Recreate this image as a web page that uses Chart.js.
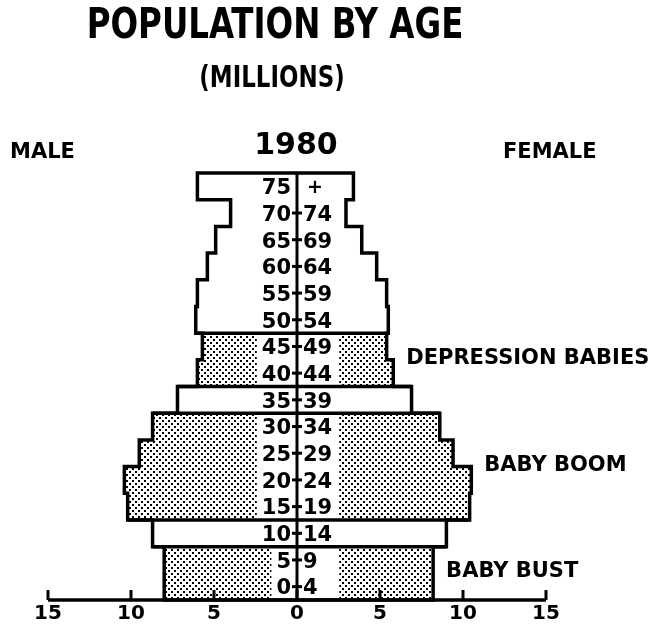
<!DOCTYPE html>
<html>
<head>
<meta charset="utf-8">
<script src="https://cdn.jsdelivr.net/npm/chart.js@4.4.1/dist/chart.umd.min.js"></script>
<style>
  body { margin: 0; background: #fff; }
  #wrap { position: relative; width: 662px; height: 629px; overflow: hidden; }
  #wrap canvas { position: absolute; left: 0; top: 0; }
  .txt { position: absolute; color: #000; font-weight: bold; line-height: 1; white-space: nowrap; }
  .narrow { font-family: "Liberation Sans Narrow", "DejaVu Sans Condensed", sans-serif; }
  .dejavu { font-family: "DejaVu Sans", sans-serif; }
  #title { left: 0; width: 550px; text-align: center; top: 2px; font-size: 43px; transform: scaleX(0.84); }
  #subtitle { left: 0; width: 544px; text-align: center; top: 62px; font-size: 30px; transform: scaleX(0.85); }
  #year { left: 0; width: 592px; text-align: center; top: 129px; font-size: 30px; }
  #male { left: 10px; top: 141px; font-size: 21px; }
  #female { left: 503px; top: 141px; font-size: 21px; }
</style>
</head>
<body>
<div id="wrap">
  <canvas id="pyramid" width="662" height="628"></canvas>
  <div class="txt narrow" id="title">POPULATION BY AGE</div>
  <div class="txt narrow" id="subtitle">(MILLIONS)</div>
  <div class="txt dejavu" id="year">1980</div>
  <div class="txt dejavu" id="male">MALE</div>
  <div class="txt dejavu" id="female">FEMALE</div>
</div>
<script>
// age groups, youngest first (drawn bottom to top)
const ageGroups = ['0-4', '5-9', '10-14', '15-19', '20-24', '25-29', '30-34', '35-39',
  '40-44', '45-49', '50-54', '55-59', '60-64', '65-69', '70-74', '75+'];
// millions
const male = [8.0, 8.0, 8.7, 10.2, 10.4, 9.5, 8.7, 7.2, 6.0, 5.7, 6.1, 6.0, 5.4, 4.9, 4.0, 6.0];
const female = [8.2, 8.2, 9.0, 10.4, 10.5, 9.4, 8.6, 6.9, 5.8, 5.4, 5.5, 5.4, 4.8, 3.9, 2.95, 3.4];
// shaded cohorts ('' = not shaded)
const cohorts = ['BABY BUST', 'BABY BUST', '', 'BABY BOOM', 'BABY BOOM', 'BABY BOOM', 'BABY BOOM', '',
  'DEPRESSION BABIES', 'DEPRESSION BABIES', '', '', '', '', '', ''];
const xTicks = [-15, -10, -5, 0, 5, 10, 15];

const LABEL_FONT = 'bold 21px "DejaVu Sans"';

// stipple fill for the shaded cohorts
function dotPattern() {
  const c = document.createElement('canvas');
  c.width = 6; c.height = 6;
  const g = c.getContext('2d');
  g.fillStyle = '#fff';
  g.fillRect(0, 0, 6, 6);
  g.fillStyle = '#000';
  g.fillRect(0, 0, 2, 2);
  g.fillRect(3, 3, 2, 2);
  return g.createPattern(c, 'repeat');
}
const dots = dotPattern();
const fills = cohorts.map(c => c ? dots : '#fff');

const pyramidPlugin = {
  id: 'pyramid',
  afterDatasetsDraw(chart) {
    const ctx = chart.ctx;
    const xs = chart.scales.x;
    const area = chart.chartArea;
    const cx = xs.getPixelForValue(0);
    const mBars = chart.getDatasetMeta(0).data;
    const fBars = chart.getDatasetMeta(1).data;
    const n = mBars.length;
    const top = b => b.y - b.height / 2;
    const bot = b => b.y + b.height / 2;

    ctx.save();
    ctx.font = LABEL_FONT;
    const twoDigit = ctx.measureText('00').width;

    // white box behind the age labels on shaded rows
    ctx.fillStyle = '#fff';
    for (let i = 0; i < n; i++) {
      if (!cohorts[i]) continue;
      const left = ageGroups[i].split(/[-+]/)[0];
      const lw = ctx.measureText(left).width;
      const x0 = cx - 7 - lw - 4;
      const x1 = cx + 7 + twoDigit + 6;
      ctx.fillRect(x0, top(mBars[i]) - 1, x1 - x0, mBars[i].height + 2);
    }

    // outline of the pyramid
    ctx.strokeStyle = '#000';
    ctx.lineWidth = 3.5;
    ctx.lineJoin = 'miter';
    [mBars, fBars].forEach(bars => {
      ctx.beginPath();
      for (let i = n - 1; i >= 0; i--) {
        const b = bars[i];
        if (i === n - 1) { ctx.moveTo(cx, top(b)); }
        ctx.lineTo(b.x, top(b));
        ctx.lineTo(b.x, bot(b));
      }
      ctx.lineTo(cx, bot(bars[0]));
      ctx.stroke();
    });
    // lines between shaded and plain cohorts
    for (let i = 1; i < n; i++) {
      if (cohorts[i] === cohorts[i - 1]) continue;
      const y = bot(mBars[i]);
      ctx.beginPath();
      ctx.moveTo(Math.min(mBars[i].x, mBars[i - 1].x), y);
      ctx.lineTo(Math.max(fBars[i].x, fBars[i - 1].x), y);
      ctx.stroke();
    }

    // centre line
    ctx.lineWidth = 3;
    ctx.beginPath();
    ctx.moveTo(cx, top(mBars[n - 1]));
    ctx.lineTo(cx, area.bottom);
    ctx.stroke();

    // age labels
    ctx.fillStyle = '#000';
    ctx.textBaseline = 'alphabetic';
    for (let i = 0; i < n; i++) {
      const y = mBars[i].y;
      const base = y + 7.8;
      const label = ageGroups[i];
      ctx.font = LABEL_FONT;
      if (label.endsWith('+')) {
        ctx.textAlign = 'right';
        ctx.fillText(label.slice(0, -1), cx - 6, base);
        ctx.font = 'bold 19px "DejaVu Sans"';
        ctx.textAlign = 'left';
        ctx.fillText('+', cx + 10, base - 1);
      } else {
        const [lo, hi] = label.split('-');
        ctx.textAlign = 'right';
        ctx.fillText(lo, cx - 6, base);
        ctx.textAlign = 'left';
        ctx.fillText(hi, cx + 6, base);
        ctx.fillRect(cx - 5, y - 1.5, 10, 3);
      }
    }

    // cohort names to the right
    ctx.font = LABEL_FONT;
    ctx.textAlign = 'left';
    ctx.textBaseline = 'alphabetic';
    [...new Set(cohorts.filter(c => c))].forEach(name => {
      const rows = cohorts.map((c, i) => c === name ? i : -1).filter(i => i >= 0);
      const ys = rows.map(i => fBars[i].y);
      const yMid = (Math.min(...ys) + Math.max(...ys)) / 2;
      const xRight = Math.max(...rows.map(i => fBars[i].x));
      ctx.fillText(name, xRight + 13, yMid + 4);
    });

    // axis line with upward ticks
    ctx.strokeStyle = '#000';
    ctx.lineWidth = 3.5;
    ctx.beginPath();
    ctx.moveTo(xs.getPixelForValue(xTicks[0]), area.bottom);
    ctx.lineTo(xs.getPixelForValue(xTicks[xTicks.length - 1]), area.bottom);
    ctx.stroke();
    ctx.lineWidth = 3;
    xs.ticks.forEach(t => {
      const px = xs.getPixelForValue(t.value);
      ctx.beginPath();
      ctx.moveTo(px, area.bottom);
      ctx.lineTo(px, area.bottom - 10);
      ctx.stroke();
    });
    ctx.restore();
  }
};

new Chart(document.getElementById('pyramid'), {
  type: 'bar',
  data: {
    labels: ageGroups,
    datasets: [
      { label: 'Male', data: male.map(v => -v), backgroundColor: fills, borderWidth: 0,
        barPercentage: 1, categoryPercentage: 1 },
      { label: 'Female', data: female, backgroundColor: fills, borderWidth: 0,
        barPercentage: 1, categoryPercentage: 1 }
    ]
  },
  options: {
    indexAxis: 'y',
    responsive: false,
    animation: false,
    layout: { padding: { left: 48, right: 116, top: 173, bottom: 0 } },
    plugins: {
      legend: { display: false },
      tooltip: { enabled: false },
      title: { display: false }
    },
    scales: {
      x: {
        stacked: true,
        min: -15,
        max: 15,
        afterBuildTicks: scale => { scale.ticks = xTicks.map(v => ({ value: v })); },
        grid: { display: false, drawTicks: false },
        border: { display: false },
        ticks: {
          callback: v => Math.abs(v),
          color: '#000',
          padding: 2,
          maxRotation: 0,
          font: { family: 'DejaVu Sans', weight: 'bold', size: 20 }
        }
      },
      y: {
        stacked: true,
        reverse: true,
        display: false
      }
    }
  },
  plugins: [pyramidPlugin]
});
</script>
</body>
</html>
